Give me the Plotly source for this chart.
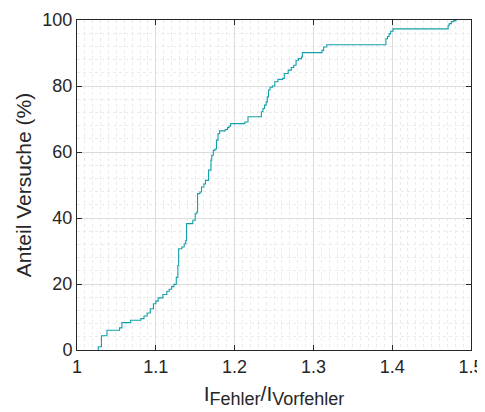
import plotly.graph_objects as go

# Empirical CDF step points: ratio where the step occurs, share (%) after the step
ratio = [1.027, 1.027, 1.031, 1.038, 1.054, 1.057, 1.068, 1.081, 1.085, 1.089,
         1.093, 1.097, 1.100, 1.103, 1.109, 1.114, 1.117, 1.120, 1.123, 1.126,
         1.128, 1.129, 1.133, 1.136, 1.138, 1.139, 1.147, 1.150, 1.152, 1.153,
         1.156, 1.158, 1.161, 1.163, 1.167, 1.170, 1.171, 1.173, 1.175, 1.177,
         1.179, 1.181, 1.188, 1.191, 1.193, 1.195, 1.213, 1.217, 1.234, 1.236,
         1.238, 1.240, 1.2415, 1.243, 1.245, 1.248, 1.251, 1.255, 1.261, 1.263,
         1.268, 1.272, 1.275, 1.278, 1.281, 1.285, 1.286, 1.311, 1.313, 1.317,
         1.392, 1.394, 1.396, 1.398, 1.401, 1.471, 1.4725, 1.475, 1.478, 1.481]
share = [0.0, 1.0, 4.3, 6.0, 6.7, 8.3, 9.0, 9.5, 10.3, 11.2,
         12.5, 14.0, 14.8, 15.8, 16.8, 17.8, 18.4, 19.2, 19.9, 22.0,
         25.6, 30.7, 31.2, 32.2, 33.2, 38.3, 39.3, 41.3, 41.8, 47.4,
         47.9, 49.4, 50.3, 51.4, 54.5, 57.5, 59.0, 60.5, 60.9, 63.6,
         65.6, 66.4, 66.8, 67.4, 67.8, 68.6, 69.1, 70.7, 72.2, 73.2,
         74.2, 75.2, 76.7, 78.8, 79.6, 80.0, 81.3, 82.0, 82.3, 83.8,
         84.8, 85.6, 86.3, 87.8, 88.3, 88.8, 90.1, 90.8, 91.8, 92.5,
         94.3, 95.0, 95.8, 96.6, 97.3, 98.4, 98.9, 99.5, 99.8, 100.0]

x_ticks = [1, 1.1, 1.2, 1.3, 1.4, 1.5]
x_ticklabels = ["1", "1.1", "1.2", "1.3", "1.4", "1.5"]
y_ticks = [0, 20, 40, 60, 80, 100]

FONT = "Liberation Sans, Arial, Helvetica, sans-serif"

fig = go.Figure()
fig.add_trace(go.Scatter(
    x=ratio, y=share, mode="lines", line_shape="hv",
    line=dict(color="#12A0AA", width=1.1), showlegend=False, hoverinfo="skip"))

axis_common = dict(
    showline=True, linecolor="#262626", linewidth=1, mirror="ticks",
    ticks="inside", ticklen=5, tickcolor="#262626", tickwidth=1,
    showgrid=True, gridcolor="#DCDCDC", gridwidth=1, zeroline=False,
    tickfont=dict(family=FONT, size=18, color="#262626"),
)

fig.update_xaxes(
    range=[1, 1.5], tickvals=x_ticks, ticktext=x_ticklabels,
    minor=dict(dtick=0.01, tick0=1, showgrid=True, gridcolor="#EBEBEB",
               griddash="dot", gridwidth=1, ticklen=0),
    title=dict(text="I<sub><span style='font-size:18px'>Fehler</span></sub>/"
                    "I<sub><span style='font-size:18px'>Vorfehler</span></sub>",
               font=dict(family=FONT, size=21, color="#262626"), standoff=10),
    **axis_common)
fig.update_yaxes(
    range=[0, 100], tickvals=y_ticks,
    minor=dict(dtick=4, tick0=0, showgrid=True, gridcolor="#EBEBEB",
               griddash="dot", gridwidth=1, ticklen=0),
    title=dict(text="Anteil Versuche (%)",
               font=dict(family=FONT, size=21, color="#262626"), standoff=5),
    **axis_common)

# page body adds an 8px offset, margins compensate so the plot box sits at
# x 77..471, y 20..350 in the browser window
fig.update_layout(
    width=485, height=412,
    margin=dict(l=69, r=22, t=12, b=70, autoexpand=False),
    plot_bgcolor="white", paper_bgcolor="white",
    font=dict(family=FONT, color="#262626"),
)

fig.write_html("out.html")
